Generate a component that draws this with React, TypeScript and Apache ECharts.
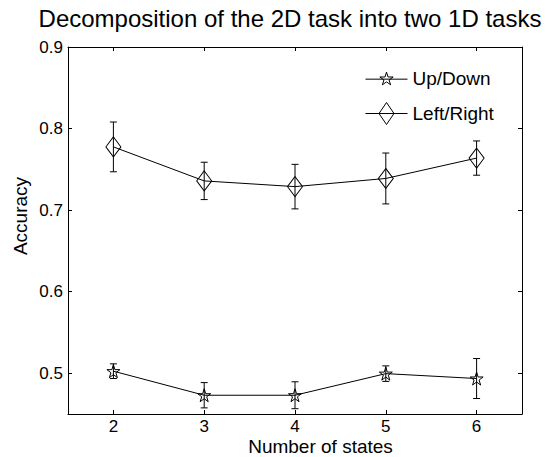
import React, { useEffect, useRef } from 'react';
import * as echarts from 'echarts';

const states = [2, 3, 4, 5, 6];
const upDown = [0.5025, 0.473, 0.473, 0.4995, 0.4935];
const upDownErr = [0.009, 0.0155, 0.0165, 0.0095, 0.0245];
const leftRight = [0.7775, 0.7358, 0.7288, 0.7388, 0.7638];
const leftRightErr = [0.0305, 0.0229, 0.0273, 0.0312, 0.021];
const xTicks = [2, 3, 4, 5, 6];
const yTicks = [0.5, 0.6, 0.7, 0.8, 0.9];

const FONT = "'Liberation Sans', Arial, Helvetica, sans-serif";

const STAR =
  'path://M50 0 L61.23 34.55 L97.55 34.55 L68.17 55.9 L79.39 90.45 L50 69.1 L20.61 90.45 L31.83 55.9 L2.45 34.55 L38.77 34.55 Z';
const STAR_ICON =
  'path://M21 0 L22.587 4.816 L27.657 4.837 L23.568 7.834 L25.114 12.663 L21 9.7 L16.886 12.663 L18.432 7.834 L14.343 4.837 L19.413 4.816 Z M0 7 L42 7';
const DIAMOND_ICON = 'path://M0 11 L42 11 M13.5 11 L21 0 L28.5 11 L21 22 Z';

const errRender = (params: any, api: any) => {
  const x = api.value(0);
  const y = api.value(1);
  const e = api.value(2);
  const t = api.coord([x, y + e]);
  const b = api.coord([x, y - e]);
  const w = 3.5;
  const style = { stroke: '#000', lineWidth: 1 };
  return {
    type: 'group',
    children: [
      { type: 'line', shape: { x1: t[0], y1: t[1], x2: b[0], y2: b[1] }, style },
      { type: 'line', shape: { x1: t[0] - w, y1: t[1], x2: t[0] + w, y2: t[1] }, style },
      { type: 'line', shape: { x1: b[0] - w, y1: b[1], x2: b[0] + w, y2: b[1] }, style },
    ],
  };
};

export default function App() {
  const ref = useRef<HTMLDivElement>(null);
  useEffect(() => {
    if (!ref.current) return;
    const chart = echarts.init(ref.current, undefined, { renderer: 'svg' });
    const axisLine = { show: true, lineStyle: { color: '#000', width: 1 } };
    const labelStyle = { color: '#000', fontSize: 17, fontFamily: FONT };
    const xBase = {
      type: 'value' as const,
      min: 1.5,
      max: 6.5,
      splitLine: { show: false },
      axisLine,
      axisTick: { show: true, inside: true, length: 4, customValues: xTicks, lineStyle: { color: '#000' } },
    };
    const yBase = {
      type: 'value' as const,
      min: 0.45,
      max: 0.9,
      splitLine: { show: false },
      axisLine,
      axisTick: { show: true, inside: true, length: 4, customValues: yTicks, lineStyle: { color: '#000' } },
    };
    chart.setOption({
      animation: false,
      backgroundColor: '#fff',
      grid: { left: 68, right: 24, top: 47, bottom: 43, containLabel: false },
      xAxis: [
        {
          ...xBase,
          position: 'bottom',
          axisLabel: { ...labelStyle, margin: 4, customValues: xTicks, formatter: (v: number) => String(v) },
        },
        { ...xBase, position: 'top', axisLabel: { show: false } },
      ],
      yAxis: [
        {
          ...yBase,
          position: 'left',
          axisLabel: { ...labelStyle, margin: 5, customValues: yTicks, formatter: (v: number) => v.toFixed(1) },
        },
        { ...yBase, position: 'right', axisLabel: { show: false } },
      ],
      legend: {
        orient: 'vertical',
        left: 365,
        top: 69,
        padding: 0,
        itemWidth: 42,
        itemHeight: 22,
        itemGap: 14,
        selectedMode: false,
        textStyle: { color: '#000', fontSize: 19, fontFamily: FONT },
        itemStyle: { color: 'transparent', borderColor: '#000', borderWidth: 1 },
        data: [
          { name: 'Up/Down', icon: STAR_ICON },
          { name: 'Left/Right', icon: DIAMOND_ICON },
        ],
      },
      graphic: [
        {
          type: 'text',
          x: 290,
          y: 18,
          style: {
            text: 'Decomposition of the 2D task into two 1D tasks',
            fontSize: 24,
            fontFamily: FONT,
            fill: '#000',
            align: 'center',
            verticalAlign: 'middle',
          },
        },
        {
          type: 'text',
          x: 320.5,
          y: 446,
          style: {
            text: 'Number of states',
            fontSize: 19,
            fontFamily: FONT,
            fill: '#000',
            align: 'center',
            verticalAlign: 'middle',
          },
        },
        {
          type: 'text',
          x: 20.5,
          y: 216,
          rotation: Math.PI / 2,
          style: {
            text: 'Accuracy',
            fontSize: 19,
            fontFamily: FONT,
            fill: '#000',
            align: 'center',
            verticalAlign: 'middle',
          },
        },
      ],
      series: [
        {
          name: 'Up/Down',
          type: 'line',
          data: states.map((s, i) => [s, upDown[i]]),
          symbol: STAR,
          symbolSize: [13, 13],
          lineStyle: { color: '#000', width: 1 },
          itemStyle: { color: 'transparent', borderColor: '#000', borderWidth: 1 },
          z: 3,
        },
        {
          name: 'Left/Right',
          type: 'line',
          data: states.map((s, i) => [s, leftRight[i]]),
          symbol: 'diamond',
          symbolSize: [15, 20],
          lineStyle: { color: '#000', width: 1 },
          itemStyle: { color: 'transparent', borderColor: '#000', borderWidth: 1 },
          z: 3,
        },
        {
          name: 'Up/Down err',
          type: 'custom',
          silent: true,
          renderItem: errRender,
          encode: { x: 0, y: 1 },
          data: states.map((s, i) => [s, upDown[i], upDownErr[i]]),
          z: 2,
        },
        {
          name: 'Left/Right err',
          type: 'custom',
          silent: true,
          renderItem: errRender,
          encode: { x: 0, y: 1 },
          data: states.map((s, i) => [s, leftRight[i], leftRightErr[i]]),
          z: 2,
        },
      ],
    });
    return () => chart.dispose();
  }, []);
  return (
    <div
      ref={ref}
      style={{ position: 'fixed', left: 0, top: 0, width: 546, height: 457, background: '#fff' }}
    />
  );
}
